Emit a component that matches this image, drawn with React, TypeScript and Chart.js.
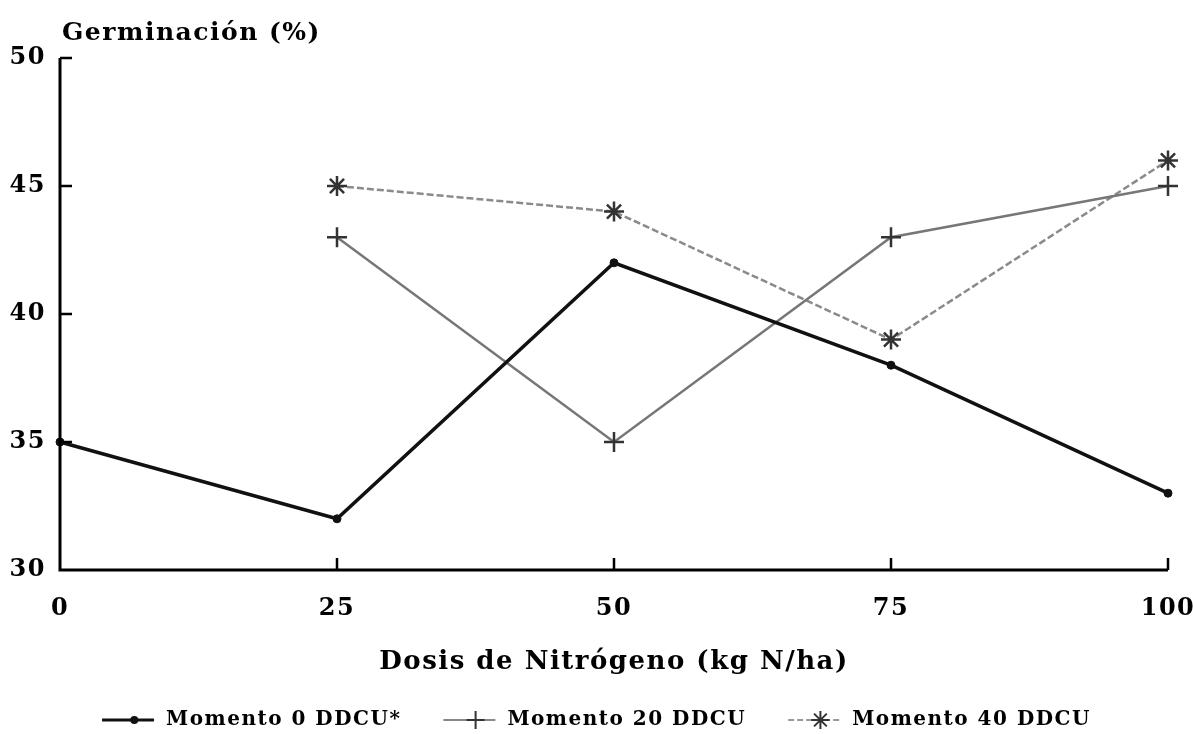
import React, { useEffect, useRef } from "react";
import { Chart, registerables } from "chart.js";

Chart.register(...registerables);

const doses = [0, 25, 50, 75, 100];
const momento0 = [35, 32, 42, 38, 33];
const momento20 = [null, 43, 35, 43, 45];
const momento40 = [null, 45, 44, 39, 46];
const seriesLabels = ["Momento 0 DDCU*", "Momento 20 DDCU", "Momento 40 DDCU"];
const yTicks = [30, 35, 40, 45, 50];
const xTicks = [0, 25, 50, 75, 100];
const yTitle = "Germinación (%)";
const xTitle = "Dosis de Nitrógeno (kg N/ha)";

const FONT = "'DejaVu Serif', serif";

type Sw = { color: string; mark: string; width: number; dash: number[]; style: string; radius: number };
const swatchStyles: Sw[] = [
  { color: "#111", mark: "#111", width: 3, dash: [], style: "circle", radius: 4 },
  { color: "#888", mark: "#333", width: 2, dash: [], style: "cross", radius: 9 },
  { color: "#999", mark: "#333", width: 2, dash: [6, 3], style: "star", radius: 9 },
];

function drawSwatch(ctx: CanvasRenderingContext2D, s: Sw, x: number, y: number, w: number) {
  ctx.save();
  ctx.strokeStyle = s.color;
  ctx.lineWidth = s.width;
  ctx.setLineDash(s.dash);
  ctx.beginPath();
  ctx.moveTo(x, y);
  ctx.lineTo(x + w, y);
  ctx.stroke();
  ctx.setLineDash([]);
  ctx.fillStyle = s.mark;
  ctx.strokeStyle = s.mark;
  ctx.lineWidth = 2;
  const cx = x + w * 0.62;
  const cy = y;
  const r = s.radius;
  ctx.beginPath();
  if (s.style === "circle") {
    ctx.arc(cx, cy, r, 0, Math.PI * 2);
    ctx.fill();
  } else if (s.style === "cross") {
    ctx.moveTo(cx, cy - r);
    ctx.lineTo(cx, cy + r);
    ctx.moveTo(cx - r, cy);
    ctx.lineTo(cx + r, cy);
    ctx.stroke();
  } else {
    for (let i = 0; i < 4; i++) {
      const a = (i * Math.PI) / 4;
      ctx.moveTo(cx + Math.cos(a) * r, cy + Math.sin(a) * r);
      ctx.lineTo(cx - Math.cos(a) * r, cy - Math.sin(a) * r);
    }
    ctx.stroke();
  }
  ctx.restore();
}

export default function App() {
  const ref = useRef<HTMLCanvasElement>(null);
  useEffect(() => {
    document.body.style.margin = "0";
    const decor = {
      id: "axisDecor",
      beforeInit(chart: any) {
        chart.ctx.letterSpacing = "1.5px";
      },
      beforeUpdate(chart: any) {
        chart.ctx.letterSpacing = "1.5px";
      },
      afterDraw(chart: any) {
        const { ctx, chartArea, scales } = chart;
        ctx.save();
        ctx.letterSpacing = "1.5px";
        ctx.strokeStyle = "#000";
        ctx.lineWidth = 3;
        ctx.beginPath();
        ctx.moveTo(chartArea.left, chartArea.top);
        ctx.lineTo(chartArea.left, chartArea.bottom);
        ctx.lineTo(chartArea.right, chartArea.bottom);
        ctx.stroke();
        ctx.lineWidth = 2.5;
        ctx.beginPath();
        for (const v of yTicks.slice(1)) {
          const y = scales.y.getPixelForValue(v);
          ctx.moveTo(chartArea.left, y);
          ctx.lineTo(chartArea.left + 12, y);
        }
        for (const v of xTicks.slice(1)) {
          const x = scales.x.getPixelForValue(v);
          ctx.moveTo(x, chartArea.bottom);
          ctx.lineTo(x, chartArea.bottom - 12);
        }
        ctx.stroke();
        ctx.fillStyle = "#000";
        ctx.font = `bold 25px ${FONT}`;
        ctx.textBaseline = "alphabetic";
        ctx.textAlign = "left";
        ctx.fillText(yTitle, chartArea.left + 2, 40);

        // legend
        ctx.font = `bold 20px ${FONT}`;
        ctx.textBaseline = "middle";
        const swW = 52, gapText = 12, gapItem = 42;
        const widths = seriesLabels.map((t) => ctx.measureText(t).width);
        const total = widths.reduce((a, b) => a + b, 0) + seriesLabels.length * (swW + gapText) + (seriesLabels.length - 1) * gapItem;
        let x = (chart.width - total) / 2;
        const ly = 720;
        seriesLabels.forEach((t, i) => {
          drawSwatch(ctx, swatchStyles[i], x, ly, swW);
          x += swW + gapText;
          ctx.fillStyle = "#000";
          ctx.fillText(t, x, ly);
          x += widths[i] + gapItem;
        });
        ctx.restore();
      },
    };
    const chart = new Chart(ref.current!, {
      type: "line",
      data: {
        datasets: [
          {
            label: seriesLabels[0],
            data: doses.map((d, i) => ({ x: d, y: momento0[i] })),
            borderColor: "#111",
            backgroundColor: "#111",
            borderWidth: 3.5,
            pointStyle: "circle",
            pointRadius: 4,
            pointBorderWidth: 1,
            clip: false,
          },
          {
            label: seriesLabels[1],
            data: doses.map((d, i) => ({ x: d, y: momento20[i] })),
            borderColor: "#777",
            backgroundColor: "#777",
            borderWidth: 2.5,
            pointStyle: "cross",
            pointRadius: 10,
            pointBorderWidth: 2.5,
            pointBorderColor: "#333",
            clip: false,
          },
          {
            label: seriesLabels[2],
            data: doses.map((d, i) => ({ x: d, y: momento40[i] })),
            borderColor: "#8a8a8a",
            backgroundColor: "#8a8a8a",
            borderWidth: 2.5,
            borderDash: [7, 3],
            pointStyle: "star",
            pointRadius: 10,
            pointBorderWidth: 2.5,
            pointBorderColor: "#333",
            clip: false,
          },
        ] as any,
      },
      options: {
        animation: false,
        responsive: false,
        spanGaps: false,
        layout: { padding: { left: 0, right: 25, top: 58, bottom: 38 } },
        plugins: {
          tooltip: { enabled: false },
          legend: { display: false },
        },
        scales: {
          x: {
            type: "linear",
            min: 0,
            max: 100,
            afterBuildTicks: (s: any) => {
              s.ticks = xTicks.map((v) => ({ value: v }));
            },
            afterFit: (s: any) => {
              s.paddingLeft = 0;
              s.paddingRight = 0;
            },
            grid: { display: false, drawTicks: false },
            border: { display: false },
            ticks: {
              color: "#000",
              padding: 24,
              maxRotation: 0,
              font: { family: FONT, weight: "bold", size: 24 },
            },
            title: {
              display: true,
              text: xTitle,
              color: "#000",
              font: { family: FONT, weight: "bold", size: 26 },
              padding: { top: 0, bottom: 18 },
            },
          },
          y: {
            min: 30,
            max: 50,
            afterBuildTicks: (s: any) => {
              s.ticks = yTicks.map((v) => ({ value: v }));
            },
            afterFit: (s: any) => {
              s.width = 60;
            },
            grid: { display: false, drawTicks: false },
            border: { display: false },
            ticks: {
              color: "#000",
              padding: 14,
              font: { family: FONT, weight: "bold", size: 24 },
            },
          },
        },
      } as any,
      plugins: [decor],
    });
    return () => chart.destroy();
  }, []);
  return (
    <div style={{ position: "fixed", left: 0, top: 0, width: 1193, height: 734, background: "#fff" }}>
      <canvas ref={ref} width={1193} height={734} />
    </div>
  );
}
